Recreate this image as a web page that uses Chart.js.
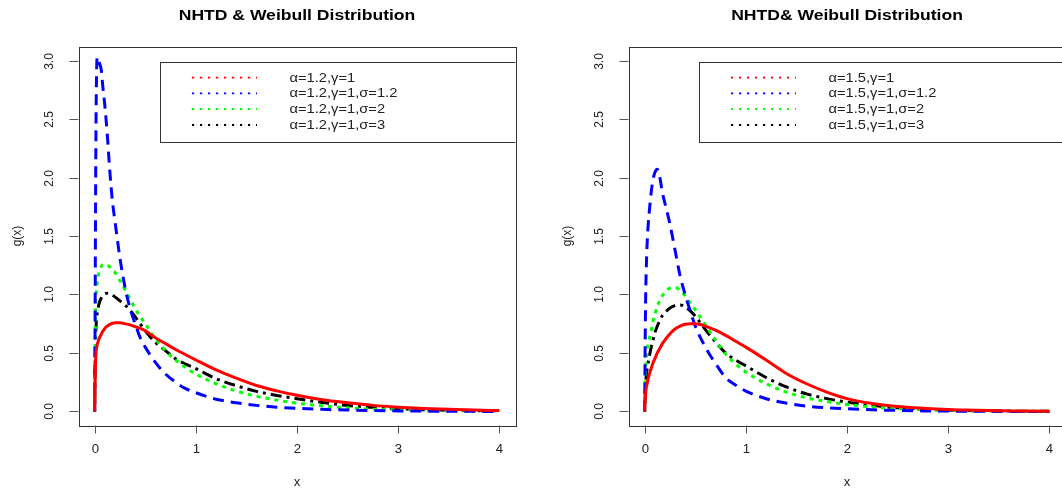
<!DOCTYPE html>
<html><head><meta charset="utf-8">
<script src="https://cdn.jsdelivr.net/npm/chart.js@4.4.1/dist/chart.umd.min.js"></script>
<style>
html,body{margin:0;padding:0;background:#fff;overflow:hidden;width:1062px;height:493px;}
#wrap{position:relative;width:1062px;height:493px;overflow:hidden;background:#fff;}
.panel{position:absolute;top:0;width:550px;height:493px;}
</style></head><body>
<div id="wrap">
<div class="panel" style="left:0"><canvas id="c1" width="550" height="493"></canvas></div>
<div class="panel" style="left:550px"><canvas id="c2" width="550" height="493"></canvas></div>
</div>
<script>
// ---- data ----
const xGrid = [0, 0.005, 0.01, 0.015, 0.025, 0.035, 0.05, 0.065, 0.08, 0.1, 0.125, 0.15, 0.175, 0.2, 0.25, 0.3, 0.35, 0.4, 0.45, 0.5, 0.6, 0.7, 0.8, 0.9, 1.0, 1.2, 1.4, 1.6, 1.8, 2.0, 2.25, 2.5, 2.75, 3.0, 3.25, 3.5, 3.75, 4.0];
const xTicks = [0, 1, 2, 3, 4];
const xTickLabels = ['0', '1', '2', '3', '4'];
const yTicks = [0, 0.5, 1, 1.5, 2, 2.5, 3];
const yTickLabels = ['0.0', '0.5', '1.0', '1.5', '2.0', '2.5', '3.0'];
const titles = ['NHTD & Weibull Distribution', 'NHTD& Weibull Distribution'];
const xTitle = 'x';
const yTitle = 'g(x)';
const legendLeft = ['α=1.2,γ=1', 'α=1.2,γ=1,σ=1.2', 'α=1.2,γ=1,σ=2', 'α=1.2,γ=1,σ=3'];
const legendRight = ['α=1.5,γ=1', 'α=1.5,γ=1,σ=1.2', 'α=1.5,γ=1,σ=2', 'α=1.5,γ=1,σ=3'];

// left panel (alpha = 1.2)
const redL = [0, 0.30, 0.45, 0.52, 0.57, 0.60, 0.635, 0.66, 0.685, 0.71, 0.73, 0.745, 0.753, 0.758, 0.758, 0.75, 0.74, 0.725, 0.71, 0.69, 0.63, 0.58, 0.53, 0.485, 0.44, 0.355, 0.285, 0.222, 0.176, 0.138, 0.10, 0.074, 0.052, 0.037, 0.026, 0.018, 0.012, 0.008];
const blueL = [0, 1.0, 2.0, 2.65, 3.03, 3.01, 2.97, 2.92, 2.78, 2.62, 2.36, 2.05, 1.80, 1.63, 1.31, 1.06, 0.88, 0.75, 0.63, 0.55, 0.42, 0.32, 0.25, 0.195, 0.16, 0.105, 0.074, 0.052, 0.037, 0.027, 0.018, 0.012, 0.008, 0.005, 0.003, 0.002, 0.001, 0.0];
const greenL = [0, 0.6, 0.9, 1.0, 1.1, 1.16, 1.21, 1.24, 1.255, 1.257, 1.25, 1.235, 1.215, 1.19, 1.12, 1.04, 0.96, 0.88, 0.81, 0.75, 0.62, 0.52, 0.44, 0.375, 0.32, 0.237, 0.175, 0.13, 0.097, 0.071, 0.048, 0.031, 0.021, 0.014, 0.009, 0.006, 0.004, 0.003];
const blackL = [0, 0.45, 0.65, 0.75, 0.84, 0.89, 0.94, 0.97, 0.99, 1.005, 1.01, 1.005, 0.995, 0.98, 0.945, 0.91, 0.865, 0.81, 0.75, 0.69, 0.59, 0.52, 0.45, 0.405, 0.366, 0.28, 0.22, 0.172, 0.137, 0.109, 0.077, 0.051, 0.035, 0.023, 0.015, 0.010, 0.007, 0.005];

// right panel (alpha = 1.5)
const redR = [0, 0.10, 0.16, 0.20, 0.24, 0.28, 0.33, 0.37, 0.41, 0.45, 0.50, 0.54, 0.58, 0.61, 0.665, 0.705, 0.73, 0.745, 0.75, 0.75, 0.73, 0.695, 0.65, 0.60, 0.55, 0.44, 0.325, 0.237, 0.166, 0.11, 0.068, 0.043, 0.028, 0.017, 0.011, 0.006, 0.004, 0.002];
const blueR = [0, 0.6, 1.0, 1.2, 1.45, 1.6, 1.75, 1.88, 1.97, 2.04, 2.07, 2.0, 1.87, 1.78, 1.6, 1.38, 1.16, 1.0, 0.86, 0.73, 0.55, 0.41, 0.29, 0.225, 0.174, 0.109, 0.071, 0.046, 0.032, 0.023, 0.014, 0.009, 0.005, 0.003, 0.002, 0.001, 0.0, 0.0];
const greenR = [0, 0.25, 0.38, 0.45, 0.53, 0.58, 0.64, 0.69, 0.76, 0.83, 0.90, 0.95, 0.99, 1.02, 1.055, 1.06, 1.035, 0.99, 0.93, 0.87, 0.74, 0.61, 0.49, 0.405, 0.337, 0.237, 0.166, 0.117, 0.085, 0.06, 0.038, 0.023, 0.015, 0.009, 0.005, 0.003, 0.002, 0.001];
const blackR = [0, 0.15, 0.24, 0.30, 0.37, 0.42, 0.49, 0.55, 0.60, 0.67, 0.73, 0.78, 0.82, 0.845, 0.885, 0.905, 0.91, 0.895, 0.86, 0.815, 0.70, 0.595, 0.50, 0.44, 0.39, 0.29, 0.21, 0.15, 0.11, 0.08, 0.052, 0.031, 0.019, 0.011, 0.007, 0.004, 0.002, 0.001];

// ---- drawing ----
const FONT = '"Liberation Sans", Arial, Helvetica, sans-serif';
const seriesStyle = [
  {color: '#ff0000', dash: []},
  {color: '#0000ff', dash: [11, 7]},
  {color: '#00ff00', dash: [4, 5]},
  {color: '#000000', dash: [3, 5, 11, 5]}
];

function pts(arr) { return xGrid.map((x, i) => ({x: x, y: arr[i]})); }

function txt(ctx, s, x, y, font, align, sx, rot, color) {
  ctx.save();
  ctx.translate(x, y);
  if (rot) ctx.rotate(rot);
  ctx.scale(sx || 1, 1);
  ctx.font = font;
  ctx.fillStyle = color || '#000';
  ctx.textAlign = align || 'center';
  ctx.textBaseline = 'middle';
  ctx.fillText(s, 0, 0);
  ctx.restore();
}

function makeDecor(title, legendTexts, legendX) {
  return {
    id: 'decor',
    afterDatasetsDraw(chart) {
      const ctx = chart.ctx;
      const a = chart.chartArea;
      const xs = chart.scales.x, ys = chart.scales.y;
      // legend (clipped to plot region)
      ctx.save();
      ctx.beginPath();
      ctx.rect(a.left, a.top, a.right - a.left, a.bottom - a.top);
      ctx.clip();
      ctx.fillStyle = '#fff';
      ctx.fillRect(legendX + 0.5, 62.5, 600, 80);
      ctx.strokeStyle = '#333';
      ctx.lineWidth = 1;
      ctx.strokeRect(legendX + 0.5, 62.5, 600, 80);
      const rows = [77.7, 93.3, 109, 125];
      legendTexts.forEach((t, i) => {
        ctx.save();
        ctx.strokeStyle = seriesStyle[i].color;
        ctx.lineWidth = 1.8;
        ctx.setLineDash([2.2, 5.8]);
        ctx.beginPath();
        ctx.moveTo(legendX + 32, rows[i]);
        ctx.lineTo(legendX + 97, rows[i]);
        ctx.stroke();
        ctx.restore();
        txt(ctx, t, legendX + 129.5, rows[i] + 0.5, '13px ' + FONT, 'left', 1.13, 0, '#222');
      });
      ctx.restore();
    },
    afterDraw(chart) {
      const ctx = chart.ctx;
      const a = chart.chartArea;
      const xs = chart.scales.x, ys = chart.scales.y;
      ctx.save();
      // box
      ctx.strokeStyle = '#333';
      ctx.lineWidth = 1;
      ctx.strokeRect(Math.round(a.left) + 0.5, Math.round(a.top) + 0.5, Math.round(a.right - a.left), Math.round(a.bottom - a.top));
      // y ticks
      ctx.strokeStyle = '#555';
      yTicks.forEach((v, i) => {
        const py = Math.round(ys.getPixelForValue(v)) + 0.5;
        ctx.beginPath();
        ctx.moveTo(a.left - 9, py);
        ctx.lineTo(a.left, py);
        ctx.stroke();
        txt(ctx, yTickLabels[i], 50, py, '12px ' + FONT, 'center', 1.0, -Math.PI / 2, '#222');
      });
      // x ticks
      xTicks.forEach((v, i) => {
        const px = Math.round(xs.getPixelForValue(v)) + 0.5;
        ctx.beginPath();
        ctx.moveTo(px, a.bottom);
        ctx.lineTo(px, a.bottom + 8);
        ctx.stroke();
        txt(ctx, xTickLabels[i], px, 450, '12px ' + FONT, 'center', 1.1, 0, '#222');
      });
      // axis titles
      const cx = (a.left + a.right) / 2, cy = (a.top + a.bottom) / 2;
      txt(ctx, xTitle, cx, 483, '12px ' + FONT, 'center', 1.1, 0, '#222');
      txt(ctx, yTitle, 18, cy, '12px ' + FONT, 'center', 1.0, -Math.PI / 2, '#222');
      // title
      txt(ctx, title, cx, 15.5, 'bold 15px ' + FONT, 'center', 1.17, 0, '#000');
      ctx.restore();
    }
  };
}

function build(id, series, title, legendTexts, legendX) {
  const datasets = series.map((arr, i) => ({
    label: legendTexts[i],
    data: pts(arr),
    borderColor: seriesStyle[i].color,
    borderWidth: 3,
    borderDash: seriesStyle[i].dash,
    pointRadius: 0,
    fill: false,
    cubicInterpolationMode: 'monotone'
  }));
  new Chart(document.getElementById(id), {
    type: 'line',
    data: {datasets},
    options: {
      responsive: false,
      animation: false,
      layout: {padding: {left: 78.5, right: 34.5, top: 46.5, bottom: 67.5}},
      scales: {
        x: {type: 'linear', min: -0.16, max: 4.16, display: false},
        y: {type: 'linear', min: -0.12, max: 3.12, display: false}
      },
      plugins: {legend: {display: false}, tooltip: {enabled: false}, title: {display: false}}
    },
    plugins: [makeDecor(title, legendTexts, legendX)]
  });
}

build('c1', [redL, blueL, greenL, blackL], titles[0], legendLeft, 160);
build('c2', [redR, blueR, greenR, blackR], titles[1], legendRight, 149);
</script>
</body></html>
